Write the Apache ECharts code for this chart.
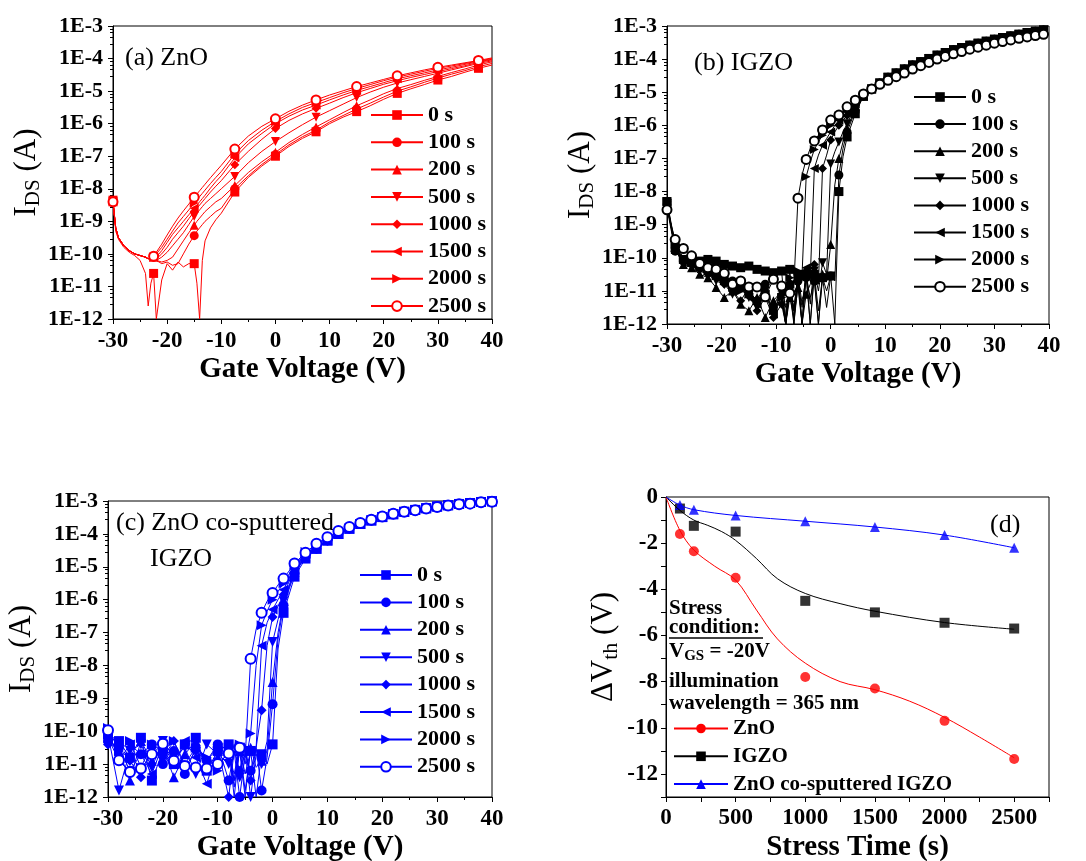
<!DOCTYPE html>
<html>
<head>
<meta charset="utf-8">
<script src="https://cdn.jsdelivr.net/npm/echarts@6/dist/echarts.min.js"></script>
<style>
  html, body { margin: 0; padding: 0; background: #fff; }
  #main { width: 1086px; height: 861px; }
</style>
</head>
<body>
<div id="main"></div>
<script>
// stress times in the legends of (a), (b), (c)
const stressNames = ['0 s', '100 s', '200 s', '500 s', '1000 s', '1500 s', '2000 s', '2500 s'];
const markerSymbols = ['rect', 'circle', 'triangle', 'triangle', 'diamond', 'triangle', 'triangle', 'emptyCircle'];
const markerRotate = [0, 0, 0, 180, 0, 90, -90, 0];

// ---- (a) ZnO : log10 of I_DS (A) ----
const gateA = [-30, -29.5, -29, -28, -27, -26, -25, -24, -23.5, -23, -22.5, -22, -21, -20, -19, -18, -17, -16, -15, -14.5, -14, -13.5, -13, -12, -11, -10, -7.5, -5, -2.5, 0, 2.5, 5, 7.5, 10, 12.5, 15, 17.5, 20, 22.5, 25, 27.5, 30, 32.5, 35, 37.5, 40];
const znoOff = [-8.4, -9.2, -9.5, -9.75, -9.9, -10.0, -10.05, -10.1, -10.15, -10.1];
const zno0 = [-8.35, -9.3, -9.55, -9.8, -9.95, -10.05, -10.2, -10.6, -11.6, -10.9, -10.6, -12.0, -10.8, -10.3, -10.5, -10.25, -10.4, -10.3, -10.3, -10.9, -12.0, -10.2, -9.6, -9.2, -8.95, -8.75, -8.1, -7.65, -7.3, -7.0, -6.7, -6.45, -6.25, -6.0, -5.8, -5.63, -5.45, -5.25, -5.07, -4.93, -4.8, -4.66, -4.55, -4.42, -4.3, -4.2];
const zno100 = [-10.1, -10.2, -10.3, -10.25, -10.35, -10.3, -10.0, -9.7, -9.44, -9.3, -9.2, -9.1, -9.0, -8.85, -8.7, -8.6, -8.0, -7.6, -7.25, -6.95, -6.65, -6.4, -6.2, -5.95, -5.75, -5.55, -5.37, -5.18, -5.0, -4.87, -4.73, -4.6, -4.48, -4.37, -4.25, -4.15];
const zno200 = [-10.1, -10.2, -10.25, -10.2, -10.1, -9.85, -9.6, -9.35, -9.12, -9.0, -8.9, -8.8, -8.7, -8.55, -8.4, -8.3, -7.9, -7.5, -7.17, -6.88, -6.58, -6.33, -6.1, -5.88, -5.66, -5.45, -5.27, -5.08, -4.92, -4.8, -4.67, -4.55, -4.43, -4.32, -4.2, -4.1];
const zno500 = [-10.1, -10.2, -10.1, -9.95, -9.75, -9.55, -9.35, -9.1, -8.85, -8.75, -8.65, -8.55, -8.45, -8.3, -8.15, -8.0, -7.62, -7.2, -6.85, -6.55, -6.28, -6.03, -5.8, -5.6, -5.4, -5.2, -5.03, -4.88, -4.75, -4.65, -4.55, -4.45, -4.35, -4.25, -4.15, -4.07];
const zno1000 = [-10.1, -10.15, -10.0, -9.8, -9.55, -9.35, -9.15, -8.92, -8.7, -8.6, -8.5, -8.4, -8.3, -8.1, -7.92, -7.75, -7.26, -6.85, -6.48, -6.15, -5.9, -5.7, -5.53, -5.37, -5.2, -5.05, -4.92, -4.79, -4.68, -4.58, -4.49, -4.4, -4.31, -4.22, -4.12, -4.04];
const zno1500 = [-10.1, -10.1, -9.9, -9.65, -9.4, -9.2, -9.0, -8.8, -8.6, -8.5, -8.4, -8.3, -8.2, -7.98, -7.78, -7.6, -7.05, -6.62, -6.3, -6.0, -5.77, -5.58, -5.43, -5.27, -5.12, -4.98, -4.86, -4.74, -4.62, -4.53, -4.44, -4.35, -4.27, -4.18, -4.1, -4.02];
const zno2000 = [-10.1, -10.0, -9.8, -9.55, -9.3, -9.05, -8.85, -8.65, -8.44, -8.34, -8.24, -8.14, -8.04, -7.84, -7.65, -7.47, -6.93, -6.52, -6.2, -5.93, -5.7, -5.5, -5.35, -5.2, -5.05, -4.92, -4.8, -4.68, -4.57, -4.48, -4.39, -4.3, -4.23, -4.15, -4.08, -4.0];
const zno2500 = [-10.07, -9.95, -9.7, -9.42, -9.15, -8.9, -8.68, -8.47, -8.26, -8.16, -8.06, -7.96, -7.86, -7.66, -7.47, -7.28, -6.78, -6.38, -6.08, -5.85, -5.62, -5.43, -5.27, -5.12, -4.99, -4.86, -4.75, -4.64, -4.53, -4.44, -4.35, -4.27, -4.2, -4.13, -4.06, -3.98];

// ---- (b) IGZO ----
const gateB = [-30, -28.5, -27, -25.5, -24, -22.5, -21, -19.5, -18, -16.5, -15, -13.5, -12, -10.5, -9, -8.25, -7.5, -6.75, -6, -5.25, -4.5, -3.75, -3, -2.25, -1.5, -0.75, 0, 0.75, 1.5, 2.25, 3, 4.5, 6, 7.5, 9, 10.5, 12, 13.5, 15, 16.5, 18, 19.5, 21, 22.5, 24, 25.5, 27, 28.5, 30, 31.5, 33, 34.5, 36, 37.5, 39];
const igzo0 = [-8.3, -9.7, -10.05, -10.0, -10.1, -10.05, -10.1, -10.2, -10.25, -10.3, -10.25, -10.35, -10.4, -10.45, -10.4, -11.8, -10.35, -12.0, -10.5, -11.4, -10.55, -12.0, -10.5, -11.6, -10.6, -11.5, -10.55, -12.0, -8.0, -6.95, -6.35, -5.65];
const igzo100 = [-8.5, -9.8, -10.1, -10.15, -10.3, -10.4, -10.5, -10.6, -10.7, -10.9, -11.0, -11.3, -10.8, -11.5, -10.9, -12.0, -10.8, -11.6, -10.7, -12.0, -10.6, -11.2, -10.7, -12.0, -10.6, -11.0, -10.55, -10.7, -7.5, -6.7, -6.2, -5.55];
const igzo200 = [-8.4, -9.75, -10.2, -10.3, -10.5, -10.6, -10.9, -11.2, -11.0, -11.4, -11.6, -11.2, -11.8, -11.3, -11.0, -12.0, -11.2, -11.8, -10.9, -12.0, -11.1, -10.8, -10.6, -12.0, -10.5, -10.7, -9.6, -7.8, -7.0, -6.5, -6.1, -5.5];
const igzo500 = [-8.35, -9.7, -10.1, -10.25, -10.4, -10.5, -10.7, -10.8, -11.1, -10.9, -11.2, -11.5, -11.0, -11.7, -11.2, -12.0, -11.0, -12.0, -10.8, -11.5, -10.5, -12.0, -10.4, -11.0, -10.15, -10.5, -7.17, -6.8, -6.5, -6.2, -5.95, -5.45];
const igzo1000 = [-8.4, -9.7, -10.05, -10.2, -10.35, -10.5, -10.6, -10.8, -11.0, -11.3, -10.9, -11.6, -11.2, -11.8, -11.4, -12.0, -10.9, -11.5, -10.6, -12.0, -10.4, -11.4, -10.2, -10.8, -7.3, -6.9, -6.44, -6.2, -6.0, -5.85, -5.7, -5.4];
const igzo1500 = [-8.35, -9.75, -10.1, -10.2, -10.3, -10.45, -10.6, -10.75, -11.0, -10.8, -11.2, -11.4, -11.1, -11.7, -11.0, -12.0, -10.8, -11.6, -10.5, -12.0, -10.3, -10.6, -7.3, -6.9, -6.6, -6.4, -6.2, -6.0, -5.85, -5.72, -5.6, -5.35];
const igzo2000 = [-8.3, -9.6, -10.0, -10.15, -10.3, -10.4, -10.55, -10.7, -10.85, -11.0, -11.1, -11.3, -11.0, -11.6, -11.2, -12.0, -10.6, -11.9, -10.4, -10.5, -7.55, -7.1, -6.73, -6.5, -6.3, -6.15, -6.0, -5.85, -5.72, -5.6, -5.5, -5.3];
const igzo2500 = [-8.55, -9.45, -9.72, -9.94, -10.17, -10.3, -10.35, -10.47, -10.8, -10.7, -10.88, -10.88, -11.18, -10.65, -10.85, -11.5, -11.07, -10.8, -8.2, -7.5, -7.03, -6.7, -6.47, -6.3, -6.14, -5.98, -5.84, -5.75, -5.69, -5.55, -5.44, -5.24];
// on-state from 6 V to 39 V (0 s .. 2000 s overlap, 2500 s a bit lower)
const igzoOn = [-5.12, -4.9, -4.72, -4.55, -4.42, -4.3, -4.18, -4.08, -3.98, -3.88, -3.8, -3.72, -3.65, -3.58, -3.52, -3.46, -3.4, -3.35, -3.3, -3.25, -3.2, -3.16, -3.12];
const igzoOn2500 = [-5.05, -4.9, -4.76, -4.64, -4.53, -4.42, -4.3, -4.2, -4.1, -4.0, -3.92, -3.84, -3.77, -3.7, -3.64, -3.58, -3.52, -3.47, -3.42, -3.37, -3.33, -3.29, -3.25];

// ---- (c) ZnO co-sputtered IGZO ----
const gateC = [-30, -28, -26, -24, -22, -20, -18, -16, -14, -12, -10, -8, -7, -6, -5, -4, -3, -2, -1, 0, 1, 2, 4, 6, 8, 10, 12, 14, 16, 18, 20, 22, 24, 26, 28, 30, 32, 34, 36, 38, 40];
const cosp0 = [-10.1, -10.3, -10.8, -10.2, -11.5, -10.6, -11.0, -10.4, -10.2, -11.2, -10.6, -10.4, -12.0, -10.5, -11.3, -10.6, -12.0, -10.7, -11.0, -10.4, -7.5, -6.4, -5.3, -4.75];
const cosp100 = [-10.3, -10.5, -11.2, -10.7, -10.4, -11.0, -10.6, -11.3, -10.5, -10.9, -10.4, -11.5, -10.6, -12.0, -10.7, -11.2, -10.5, -11.8, -10.8, -9.18, -7.2, -6.17, -5.2, -4.7];
const cosp200 = [-10.2, -10.6, -11.5, -10.3, -10.9, -10.5, -11.4, -10.7, -10.3, -11.0, -10.8, -10.5, -11.7, -10.6, -12.0, -10.5, -11.1, -10.9, -10.6, -8.5, -7.0, -6.1, -5.15, -4.68];
const cosp500 = [-10.1, -11.8, -10.6, -10.4, -11.1, -10.3, -10.8, -10.5, -11.3, -10.4, -10.7, -11.0, -10.4, -11.4, -10.6, -12.0, -10.7, -11.0, -10.3, -7.29, -6.6, -6.05, -5.1, -4.65];
const cosp1000 = [-10.4, -10.5, -10.9, -11.4, -10.5, -10.8, -10.3, -11.1, -10.6, -10.9, -10.5, -12.0, -10.6, -11.2, -10.4, -11.5, -10.5, -9.36, -7.4, -6.53, -6.2, -5.85, -5.05, -4.62];
const cosp1500 = [-10.2, -10.9, -10.4, -10.7, -11.3, -10.4, -11.0, -10.3, -10.8, -11.6, -10.5, -10.7, -11.3, -10.5, -11.8, -10.6, -10.5, -7.4, -6.7, -6.3, -6.0, -5.7, -5.0, -4.6];
const cosp2000 = [-9.9, -10.6, -10.3, -11.1, -10.4, -10.6, -10.3, -11.0, -10.5, -10.8, -11.2, -10.5, -11.5, -10.4, -11.0, -10.07, -8.0, -6.78, -6.35, -6.0, -5.75, -5.5, -4.95, -4.55];
const cosp2500 = [-9.97, -10.88, -11.24, -11.13, -10.7, -10.38, -10.9, -11.06, -11.1, -11.13, -11.0, -10.68, -11.5, -10.5, -10.8, -7.8, -6.9, -6.4, -6.05, -5.8, -5.55, -5.36, -4.9, -4.57, -4.3, -4.1, -3.91, -3.79, -3.67, -3.57, -3.47, -3.39, -3.33, -3.28, -3.23, -3.18, -3.14, -3.1, -3.08, -3.04, -3.02];
// on-state from 8 V to 40 V
const cospOn = [-4.45, -4.2, -4.0, -3.84, -3.7, -3.59, -3.49, -3.4, -3.33, -3.27, -3.22, -3.17, -3.13, -3.09, -3.06, -3.03, -3.01];

// ---- (d) threshold voltage shift vs stress time ----
const stressTime = [100, 200, 500, 1000, 1500, 2000, 2500];
const dvthZnO = [-1.6, -2.35, -3.5, -7.8, -8.3, -9.7, -11.35];
const dvthIGZO = [-0.5, -1.25, -1.5, -4.5, -5.0, -5.45, -5.7];
const dvthCosp = [-0.35, -0.55, -0.8, -1.05, -1.3, -1.65, -2.2];
// fitted curves drawn through the points
const fitTimeZnO = [0, 100, 200, 350, 500, 650, 800, 1000, 1250, 1500, 1750, 2000, 2250, 2500];
const fitZnO = [0, -1.45, -2.3, -3.0, -3.6, -4.9, -6.15, -7.2, -8.0, -8.35, -8.85, -9.55, -10.4, -11.3];
const fitTimeIGZO = [0, 100, 200, 300, 400, 500, 650, 800, 1000, 1250, 1500, 2000, 2500];
const fitIGZO = [0, -0.58, -1.0, -1.23, -1.5, -1.88, -2.67, -3.54, -4.18, -4.62, -4.95, -5.44, -5.73];
const fitTimeCosp = [0, 100, 200, 500, 1000, 1500, 2000, 2500];
const fitCosp = [0, -0.35, -0.55, -0.8, -1.05, -1.3, -1.65, -2.2];

const FONT = '"Liberation Serif", "Times New Roman", serif';
const RED = '#ff0000', BLUE = '#0000ff', BLACK = '#000000';

function onGrid(x, step) {
    const r = (x + 30) / step;
    return Math.abs(r - Math.round(r)) < 1e-6;
}

// one panel of transfer curves (8 stress times)
function transferSeries(prefix, idx, xs, curves, color, step, size) {
    return curves.map((logs, k) => ({
        name: prefix + stressNames[k],
        type: 'line',
        xAxisIndex: idx,
        yAxisIndex: idx,
        data: xs.map((x, i) => [x, Math.pow(10, logs[i])]),
        symbol: markerSymbols[k],
        symbolRotate: markerRotate[k],
        symbolSize: v => onGrid(v[0], step) ? size : 0,
        itemStyle: { color: color, borderColor: color, borderWidth: k === 7 ? 1.5 : 0 },
        lineStyle: { color: color, width: 1 },
        emphasis: { disabled: true },
        z: 2 + k
    }));
}

function gateAxis(idx) {
    return {
        gridIndex: idx, type: 'value', min: -30, max: 40, interval: 10,
        axisLine: { show: true, onZero: false, lineStyle: { color: BLACK, width: 1 } },
        axisTick: { show: true, inside: false, length: 5, lineStyle: { color: BLACK } },
        minorTick: { show: true, splitNumber: 2, length: 3, lineStyle: { color: BLACK } },
        splitLine: { show: false },
        axisLabel: { color: BLACK, fontFamily: FONT, fontWeight: 'bold', fontSize: 23, margin: 11 },
        name: 'Gate Voltage (V)', nameLocation: 'middle', nameGap: 36,
        nameTextStyle: { color: BLACK, fontFamily: FONT, fontWeight: 'bold', fontSize: 29 }
    };
}

function currentAxis(idx, gap) {
    return {
        gridIndex: idx, type: 'log', logBase: 10, min: 1e-12, max: 1e-3, splitNumber: 9,
        axisLine: { show: true, onZero: false, lineStyle: { color: BLACK, width: 1 } },
        axisTick: { show: true, inside: false, length: 5, lineStyle: { color: BLACK } },
        minorTick: { show: true, splitNumber: 5, length: 3, lineStyle: { color: BLACK } },
        splitLine: { show: false },
        axisLabel: {
            color: BLACK, fontFamily: FONT, fontWeight: 'bold', fontSize: 22, margin: 10,
            formatter: v => '1E' + Math.round(Math.log10(v))
        },
        name: '{m|I}{s|DS}{m| (A)}', nameLocation: 'middle', nameRotate: 90, nameGap: gap,
        nameTextStyle: {
            color: BLACK, fontFamily: FONT,
            rich: {
                m: { fontSize: 31, fontFamily: FONT, color: BLACK },
                s: { fontSize: 21, fontFamily: FONT, color: BLACK, padding: [14, 0, 0, 0] }
            }
        }
    };
}

function stressLegend(prefix, left, top, gap) {
    return {
        orient: 'vertical', left: left, top: top,
        itemWidth: 52, itemHeight: 12, itemGap: gap,
        selectedMode: false,
        data: stressNames.map(n => prefix + n),
        formatter: name => name.slice(2),
        textStyle: { color: BLACK, fontFamily: FONT, fontWeight: 'bold', fontSize: 22, lineHeight: 20 }
    };
}

const textBase = { fontFamily: FONT, fill: BLACK, verticalAlign: 'middle', textVerticalAlign: 'middle' };

const chart = echarts.init(document.getElementById('main'));
const option = {
    animation: false,
    backgroundColor: '#fff',
    textStyle: { fontFamily: FONT },
    grid: [
        { left: 113, top: 26, width: 379, height: 293 },
        { left: 667, top: 26, width: 382, height: 298 },
        { left: 108, top: 501, width: 384, height: 296 },
        { left: 666, top: 497, width: 383, height: 300 }
    ].map(g => Object.assign(g, { show: true, borderColor: BLACK, borderWidth: 1, containLabel: false, outerBoundsMode: 'none' })),
    xAxis: [
        gateAxis(0), gateAxis(1), gateAxis(2),
        {
            gridIndex: 3, type: 'value', min: 0, max: 2750, interval: 250,
            axisLine: { show: true, onZero: false, lineStyle: { color: BLACK, width: 1 } },
            axisTick: { show: true, inside: false, length: 5, lineStyle: { color: BLACK } },
            splitLine: { show: false },
            axisLabel: {
                color: BLACK, fontFamily: FONT, fontWeight: 'bold', fontSize: 23, margin: 10,
                formatter: v => (v % 500 === 0 ? String(v) : '')
            },
            name: 'Stress Time (s)', nameLocation: 'middle', nameGap: 36,
            nameTextStyle: { color: BLACK, fontFamily: FONT, fontWeight: 'bold', fontSize: 29 }
        }
    ],
    yAxis: [
        currentAxis(0, 62), currentAxis(1, 62), currentAxis(2, 66),
        {
            gridIndex: 3, type: 'value', min: -13, max: 0, interval: 1,
            axisLine: { show: true, onZero: false, lineStyle: { color: BLACK, width: 1 } },
            axisTick: { show: true, inside: false, length: 5, lineStyle: { color: BLACK } },
            splitLine: { show: false },
            axisLabel: {
                color: BLACK, fontFamily: FONT, fontWeight: 'bold', fontSize: 23, margin: 8,
                formatter: v => (v % 2 === 0 ? String(v) : '')
            },
            name: '{m|ΔV}{s|th}{m| (V)}', nameLocation: 'middle', nameRotate: 90, nameGap: 44,
            nameTextStyle: {
                color: BLACK, fontFamily: FONT,
                rich: {
                    m: { fontSize: 31, fontFamily: FONT, color: BLACK },
                    s: { fontSize: 22, fontFamily: FONT, color: BLACK, padding: [14, 0, 0, 0] }
                }
            }
        }
    ],
    legend: [
        stressLegend('a:', 365, 99, 5.3),
        stressLegend('b:', 908, 81, 5.1),
        stressLegend('c:', 354, 559, 5.4),
        {
            orient: 'vertical', left: 668, top: 713, itemWidth: 54, itemHeight: 12, itemGap: 6.8,
            selectedMode: false,
            data: ['ZnO', 'IGZO', 'ZnO co-sputtered IGZO'],
            textStyle: { color: BLACK, fontFamily: FONT, fontWeight: 'bold', fontSize: 21, lineHeight: 20 }
        }
    ],
    graphic: [
        { type: 'text', x: 125, y: 58, style: Object.assign({ text: '(a) ZnO', fontSize: 26 }, textBase) },
        { type: 'text', x: 694, y: 63, style: Object.assign({ text: '(b) IGZO', fontSize: 26 }, textBase) },
        { type: 'text', x: 116, y: 523, style: Object.assign({ text: '(c) ZnO co-sputtered', fontSize: 26 }, textBase) },
        { type: 'text', x: 150, y: 559, style: Object.assign({ text: 'IGZO', fontSize: 26 }, textBase) },
        { type: 'text', x: 990, y: 525, style: Object.assign({ text: '(d)', fontSize: 26 }, textBase) },
        { type: 'text', x: 669, y: 609, style: Object.assign({ text: 'Stress', fontSize: 21, fontWeight: 'bold' }, textBase) },
        { type: 'text', x: 669, y: 628, style: Object.assign({ text: 'condition:', fontSize: 21, fontWeight: 'bold' }, textBase) },
        { type: 'line', shape: { x1: 669, y1: 638, x2: 763, y2: 638 }, style: { stroke: BLACK, lineWidth: 1.5 } },
        {
            type: 'text', x: 669, y: 652,
            style: Object.assign({
                text: '{b|V}{s|GS}{b| = -20V}',
                rich: {
                    b: { fontSize: 21, fontWeight: 'bold', fontFamily: FONT, fill: BLACK },
                    s: { fontSize: 15, fontWeight: 'bold', fontFamily: FONT, fill: BLACK, padding: [9, 0, 0, 0] }
                }
            }, textBase)
        },
        { type: 'text', x: 669, y: 682, style: Object.assign({ text: 'illumination', fontSize: 21, fontWeight: 'bold' }, textBase) },
        { type: 'text', x: 669, y: 704, style: Object.assign({ text: 'wavelength = 365 nm', fontSize: 21, fontWeight: 'bold' }, textBase) }
    ],
    series: [].concat(
        transferSeries('a:', 0, gateA, [
            zno0,
            znoOff.concat(zno100), znoOff.concat(zno200), znoOff.concat(zno500),
            znoOff.concat(zno1000), znoOff.concat(zno1500), znoOff.concat(zno2000), znoOff.concat(zno2500)
        ], RED, 7.5, 9),
        transferSeries('b:', 1, gateB, [
            igzo0.concat(igzoOn), igzo100.concat(igzoOn), igzo200.concat(igzoOn), igzo500.concat(igzoOn),
            igzo1000.concat(igzoOn), igzo1500.concat(igzoOn), igzo2000.concat(igzoOn), igzo2500.concat(igzoOn2500)
        ], BLACK, 1.5, 9),
        transferSeries('c:', 2, gateC, [
            cosp0.concat(cospOn), cosp100.concat(cospOn), cosp200.concat(cospOn), cosp500.concat(cospOn),
            cosp1000.concat(cospOn), cosp1500.concat(cospOn), cosp2000.concat(cospOn), cosp2500
        ], BLUE, 2, 10),
        [
            { name: 'ZnO', color: RED, sym: 'circle', t: fitTimeZnO, v: fitZnO, pts: dvthZnO },
            { name: 'IGZO', color: BLACK, sym: 'rect', t: fitTimeIGZO, v: fitIGZO, pts: dvthIGZO },
            { name: 'ZnO co-sputtered IGZO', color: BLUE, sym: 'triangle', t: fitTimeCosp, v: fitCosp, pts: dvthCosp }
        ].flatMap(s => [
            {
                name: s.name, type: 'line', xAxisIndex: 3, yAxisIndex: 3,
                data: s.t.map((t, i) => [t, s.v[i]]),
                smooth: 0.35, showSymbol: false, symbol: s.sym,
                itemStyle: { color: s.color },
                lineStyle: { color: s.color, width: 1 },
                emphasis: { disabled: true }
            },
            {
                name: s.name + ' points', type: 'scatter', xAxisIndex: 3, yAxisIndex: 3,
                data: stressTime.map((t, i) => [t, s.pts[i]]),
                symbol: s.sym, symbolSize: 10,
                itemStyle: { color: s.color },
                emphasis: { disabled: true }
            }
        ])
    )
};
chart.setOption(option);
</script>
</body>
</html>
